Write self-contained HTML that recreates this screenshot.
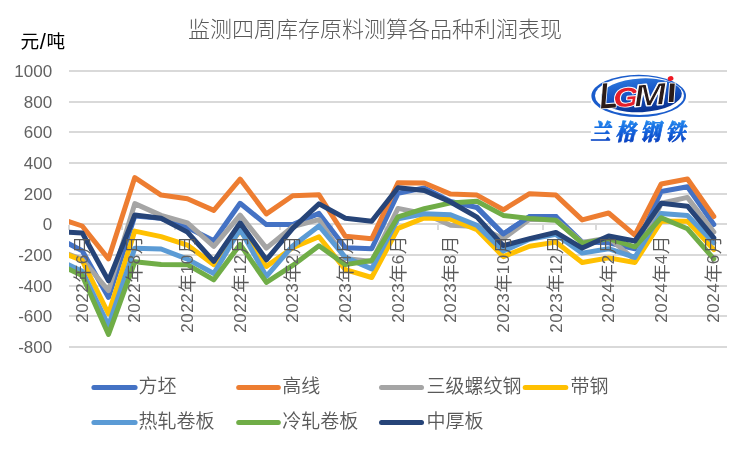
<!DOCTYPE html>
<html lang="zh"><head><meta charset="utf-8"><title>监测四周库存原料测算各品种利润表现</title>
<style>
html,body{margin:0;padding:0;background:#fff}
body{width:750px;height:450px;overflow:hidden}
svg{display:block;will-change:transform;opacity:.999}
text{font-family:'Liberation Sans','Noto Sans CJK SC',sans-serif}
.num{font-family:'Liberation Sans',sans-serif;font-size:17px;fill:#626262}
.numx{font-family:'Liberation Sans',sans-serif;font-size:17px;letter-spacing:.55px;fill:#626262}
.cjk{font-family:'Liberation Sans','Noto Sans CJK SC',sans-serif;font-weight:350}
</style></head><body>
<svg width="750" height="450" viewBox="0 0 750 450">
<defs>
<clipPath id="plot"><rect x="69.0" y="40" width="658.0" height="330"/></clipPath>
<linearGradient id="lgBlue" x1="0" y1="0" x2="0" y2="1"><stop offset="0" stop-color="#1e63d6"/><stop offset="1" stop-color="#0b3fb0"/></linearGradient>
<linearGradient id="lgTxt" x1="0" y1="0" x2="0" y2="1"><stop offset="0" stop-color="#2a9bf5"/><stop offset="1" stop-color="#0a3fc4"/></linearGradient>
</defs>
<rect width="750" height="450" fill="#fff"/>
<text x="375" y="37.2" text-anchor="middle" font-size="22" fill="#595959" class="cjk" style="font-weight:300">监测四周库存原料测算各品种利润表现</text>
<text x="20.5" y="47.5" font-size="18.67" fill="#000"><tspan class="cjk" style="font-weight:400">元</tspan><tspan font-size="22" dx="0.6" dy="1.2">/</tspan><tspan class="cjk" style="font-weight:400" dx="0.6" dy="-1.2">吨</tspan></text>
<g fill="#D9D9D9" shape-rendering="crispEdges">
<rect x="69" y="70" width="658" height="2"/>
<rect x="69" y="101" width="658" height="2"/>
<rect x="69" y="131" width="658" height="2"/>
<rect x="69" y="162" width="658" height="2"/>
<rect x="69" y="193" width="658" height="2"/>
<rect x="69" y="223" width="658" height="2"/>
<rect x="69" y="254" width="658" height="2"/>
<rect x="69" y="285" width="658" height="2"/>
<rect x="69" y="315" width="658" height="2"/>
<rect x="69" y="346" width="658" height="2"/>
<rect x="68" y="225" width="2" height="5"/>
<rect x="121" y="225" width="2" height="5"/>
<rect x="174" y="225" width="2" height="5"/>
<rect x="226" y="225" width="2" height="5"/>
<rect x="279" y="225" width="2" height="5"/>
<rect x="331" y="225" width="2" height="5"/>
<rect x="384" y="225" width="2" height="5"/>
<rect x="437" y="225" width="2" height="5"/>
<rect x="489" y="225" width="2" height="5"/>
<rect x="542" y="225" width="2" height="5"/>
<rect x="595" y="225" width="2" height="5"/>
<rect x="647" y="225" width="2" height="5"/>
<rect x="700" y="225" width="2" height="5"/>
</g>
<g class="num" fill="#595959" text-anchor="end">
<text x="52.2" y="77.00">1000</text>
<text x="52.2" y="108.00">800</text>
<text x="52.2" y="138.00">600</text>
<text x="52.2" y="169.00">400</text>
<text x="52.2" y="200.00">200</text>
<text x="52.2" y="230.00">0</text>
<text x="52.2" y="261.00">-200</text>
<text x="52.2" y="292.00">-400</text>
<text x="52.2" y="322.00">-600</text>
<text x="52.2" y="353.00">-800</text>
</g>
<g id="logo">
<rect x="590.9" y="72.3" width="97.5" height="73" fill="#fff"/>
<defs>
<linearGradient id="lgEl" x1="0" y1="0" x2="0.25" y2="1"><stop offset="0" stop-color="#2f7be0"/><stop offset="0.55" stop-color="#1553c4"/><stop offset="1" stop-color="#0a3596"/></linearGradient>
<linearGradient id="lgCn" x1="0" y1="0" x2="0" y2="1"><stop offset="0" stop-color="#2ea0f6"/><stop offset="0.5" stop-color="#1468e0"/><stop offset="1" stop-color="#0838b8"/></linearGradient>
<clipPath id="iStem"><rect x="660" y="82.6" width="20" height="24"/></clipPath>
</defs>
<ellipse cx="638.7" cy="95.9" rx="47.3" ry="21.1" fill="#1a5ccc"/>
<ellipse cx="639.5" cy="95.7" rx="44.5" ry="19.4" fill="#fff"/>
<ellipse cx="641.4" cy="95.3" rx="40.5" ry="16.9" fill="url(#lgEl)" transform="rotate(-3 641.4 95.3)"/>
<g font-family="'Liberation Sans',sans-serif" font-weight="bold" font-style="italic" stroke="#fff" stroke-width="1.8" paint-order="stroke" stroke-linejoin="round">
<text transform="translate(600.4,108.6) rotate(-4) scale(0.80,1)" font-size="36" fill="#2a1b19">L</text>
<text transform="translate(614.0,107.3) rotate(-4) scale(1.24,1)" font-size="26.5" fill="#e61e2a">G</text>
<text transform="translate(634.4,106.8) rotate(-5) scale(1.27,1)" font-size="31" fill="#fff" stroke-width="1.7">M</text><text transform="translate(634.4,106.8) rotate(-5) scale(1.27,1)" font-size="31" fill="#2a1b19" stroke-width="0.8" paint-order="normal">M</text>
<g clip-path="url(#iStem)"><text transform="translate(666.2,102.4) skewX(-4) scale(1.0,1)" font-size="35" font-style="normal" fill="#2a1b19">i</text></g>
</g>
<ellipse cx="670.6" cy="78.5" rx="2.9" ry="2.4" fill="#f01822" transform="rotate(-15 670.6 78.5)"/>
<text transform="translate(590.5,139.6) skewX(-12) scale(1,1.13)" style="font-family:'Noto Serif CJK SC',serif;font-weight:900;font-size:20px;letter-spacing:5px" fill="url(#lgCn)" stroke="url(#lgCn)" stroke-width="0.7">兰格钢铁</text>
</g>

<g clip-path="url(#plot)" fill="none" stroke-width="5.00" stroke-linejoin="round" stroke-linecap="round">
<polyline stroke="#4472C4" points="55.8,237.0 82.2,250.8 108.5,297.4 134.8,216.0 161.1,218.3 187.4,227.5 213.8,240.7 240.1,203.3 266.4,224.6 292.7,224.6 319.0,213.4 345.4,247.7 371.7,248.7 398.0,193.4 424.3,187.9 450.6,201.5 477.0,207.5 503.3,234.0 529.6,216.5 555.9,216.5 582.2,242.1 608.6,242.8 634.9,248.7 661.2,191.5 687.5,186.8 713.8,224.5"/>
<polyline stroke="#ED7D31" points="55.8,217.1 82.2,226.0 108.5,258.9 134.8,177.6 161.1,195.1 187.4,198.7 213.8,210.4 240.1,179.1 266.4,213.9 292.7,195.7 319.0,194.8 345.4,236.3 371.7,238.7 398.0,182.7 424.3,183.0 450.6,194.1 477.0,195.1 503.3,209.8 529.6,193.7 555.9,195.1 582.2,219.9 608.6,213.0 634.9,235.2 661.2,184.0 687.5,179.0 713.8,216.5"/>
<polyline stroke="#A5A5A5" points="55.8,249.3 82.2,259.4 108.5,290.6 134.8,203.6 161.1,215.4 187.4,222.9 213.8,246.4 240.1,215.1 266.4,248.1 292.7,226.6 319.0,219.7 345.4,258.6 371.7,261.5 398.0,208.4 424.3,213.7 450.6,225.2 477.0,226.6 503.3,238.6 529.6,219.3 555.9,220.0 582.2,242.5 608.6,237.9 634.9,259.7 661.2,203.3 687.5,197.4 713.8,232.1"/>
<polyline stroke="#4472C4" points="477.0,207.5 503.3,234.0 529.6,216.5 555.9,216.5"/>
<polyline stroke="#FFC000" points="55.8,249.9 82.2,260.5 108.5,313.9 134.8,231.1 161.1,236.6 187.4,245.1 213.8,264.7 240.1,230.6 266.4,266.4 292.7,247.7 319.0,236.7 345.4,269.7 371.7,277.5 398.0,228.4 424.3,217.9 450.6,219.1 477.0,229.8 503.3,256.6 529.6,246.2 555.9,242.1 582.2,262.5 608.6,257.9 634.9,262.5 661.2,221.3 687.5,221.3 713.8,249.6"/>
<polyline stroke="#5B9BD5" points="55.8,258.9 82.2,271.2 108.5,325.6 134.8,248.2 161.1,249.0 187.4,259.1 213.8,273.5 240.1,229.1 266.4,276.4 292.7,245.9 319.0,226.0 345.4,257.4 371.7,268.9 398.0,218.8 424.3,213.7 450.6,214.8 477.0,225.4 503.3,251.0 529.6,239.3 555.9,234.4 582.2,253.1 608.6,248.7 634.9,257.4 661.2,213.4 687.5,215.4 713.8,242.8"/>
<polyline stroke="#70AD47" points="55.8,262.8 82.2,275.6 108.5,334.4 134.8,261.8 161.1,264.6 187.4,264.7 213.8,279.8 240.1,244.4 266.4,282.4 292.7,265.4 319.0,245.8 345.4,264.6 371.7,260.5 398.0,216.8 424.3,208.7 450.6,202.9 477.0,201.2 503.3,215.4 529.6,218.6 555.9,220.3 582.2,243.2 608.6,238.6 634.9,246.8 661.2,217.7 687.5,228.8 713.8,258.8"/>
<polyline stroke="#264478" points="55.8,231.4 82.2,232.9 108.5,280.7 134.8,215.0 161.1,218.3 187.4,232.1 213.8,261.4 240.1,222.8 266.4,259.8 292.7,228.4 319.0,203.9 345.4,218.3 371.7,221.3 398.0,187.7 424.3,190.5 450.6,202.0 477.0,217.1 503.3,245.6 529.6,238.7 555.9,232.4 582.2,248.1 608.6,236.0 634.9,241.0 661.2,203.2 687.5,206.2 713.8,237.9"/>
</g>
<g fill="#595959" font-size="18.67" text-anchor="end">
<text transform="translate(87.76,235.50) rotate(-90)" x="0" y="0"><tspan class="numx">2022</tspan><tspan class="cjk" dy="0.9">年</tspan><tspan class="numx" dy="-0.9">6</tspan><tspan class="cjk" dy="0.9">月</tspan></text>
<text transform="translate(140.40,235.50) rotate(-90)" x="0" y="0"><tspan class="numx">2022</tspan><tspan class="cjk" dy="0.9">年</tspan><tspan class="numx" dy="-0.9">8</tspan><tspan class="cjk" dy="0.9">月</tspan></text>
<text transform="translate(193.04,235.50) rotate(-90)" x="0" y="0"><tspan class="numx">2022</tspan><tspan class="cjk" dy="0.9">年</tspan><tspan class="numx" dy="-0.9">10</tspan><tspan class="cjk" dy="0.9">月</tspan></text>
<text transform="translate(245.68,235.50) rotate(-90)" x="0" y="0"><tspan class="numx">2022</tspan><tspan class="cjk" dy="0.9">年</tspan><tspan class="numx" dy="-0.9">12</tspan><tspan class="cjk" dy="0.9">月</tspan></text>
<text transform="translate(298.32,235.50) rotate(-90)" x="0" y="0"><tspan class="numx">2023</tspan><tspan class="cjk" dy="0.9">年</tspan><tspan class="numx" dy="-0.9">2</tspan><tspan class="cjk" dy="0.9">月</tspan></text>
<text transform="translate(350.96,235.50) rotate(-90)" x="0" y="0"><tspan class="numx">2023</tspan><tspan class="cjk" dy="0.9">年</tspan><tspan class="numx" dy="-0.9">4</tspan><tspan class="cjk" dy="0.9">月</tspan></text>
<text transform="translate(403.60,235.50) rotate(-90)" x="0" y="0"><tspan class="numx">2023</tspan><tspan class="cjk" dy="0.9">年</tspan><tspan class="numx" dy="-0.9">6</tspan><tspan class="cjk" dy="0.9">月</tspan></text>
<text transform="translate(456.24,235.50) rotate(-90)" x="0" y="0"><tspan class="numx">2023</tspan><tspan class="cjk" dy="0.9">年</tspan><tspan class="numx" dy="-0.9">8</tspan><tspan class="cjk" dy="0.9">月</tspan></text>
<text transform="translate(508.88,235.50) rotate(-90)" x="0" y="0"><tspan class="numx">2023</tspan><tspan class="cjk" dy="0.9">年</tspan><tspan class="numx" dy="-0.9">10</tspan><tspan class="cjk" dy="0.9">月</tspan></text>
<text transform="translate(561.52,235.50) rotate(-90)" x="0" y="0"><tspan class="numx">2023</tspan><tspan class="cjk" dy="0.9">年</tspan><tspan class="numx" dy="-0.9">12</tspan><tspan class="cjk" dy="0.9">月</tspan></text>
<text transform="translate(614.16,235.50) rotate(-90)" x="0" y="0"><tspan class="numx">2024</tspan><tspan class="cjk" dy="0.9">年</tspan><tspan class="numx" dy="-0.9">2</tspan><tspan class="cjk" dy="0.9">月</tspan></text>
<text transform="translate(666.80,235.50) rotate(-90)" x="0" y="0"><tspan class="numx">2024</tspan><tspan class="cjk" dy="0.9">年</tspan><tspan class="numx" dy="-0.9">4</tspan><tspan class="cjk" dy="0.9">月</tspan></text>
<text transform="translate(719.44,235.50) rotate(-90)" x="0" y="0"><tspan class="numx">2024</tspan><tspan class="cjk" dy="0.9">年</tspan><tspan class="numx" dy="-0.9">6</tspan><tspan class="cjk" dy="0.9">月</tspan></text>
</g>
<g stroke-width="5.00" stroke-linecap="round" fill="none">
<line x1="93.9" y1="387.6" x2="135.1" y2="387.6" stroke="#4472C4"/>
<line x1="238.7" y1="387.6" x2="278.3" y2="387.6" stroke="#ED7D31"/>
<line x1="381.5" y1="387.6" x2="421.5" y2="387.6" stroke="#A5A5A5"/>
<line x1="525.2" y1="387.6" x2="565.8" y2="387.6" stroke="#FFC000"/>
<line x1="93.9" y1="422.4" x2="135.1" y2="422.4" stroke="#5B9BD5"/>
<line x1="238.7" y1="422.4" x2="278.3" y2="422.4" stroke="#70AD47"/>
<line x1="381.5" y1="422.4" x2="421.5" y2="422.4" stroke="#264478"/>
</g>
<g fill="#595959" font-size="19" class="cjk">
<text x="138.6" y="393.1">方坯</text>
<text x="282.2" y="393.1">高线</text>
<text x="426.5" y="393.1">三级螺纹钢</text>
<text x="570.4" y="393.1">带钢</text>
<text x="138.6" y="427.9">热轧卷板</text>
<text x="282.2" y="427.9">冷轧卷板</text>
<text x="426.5" y="427.9">中厚板</text>
</g>
</svg>
</body></html>
